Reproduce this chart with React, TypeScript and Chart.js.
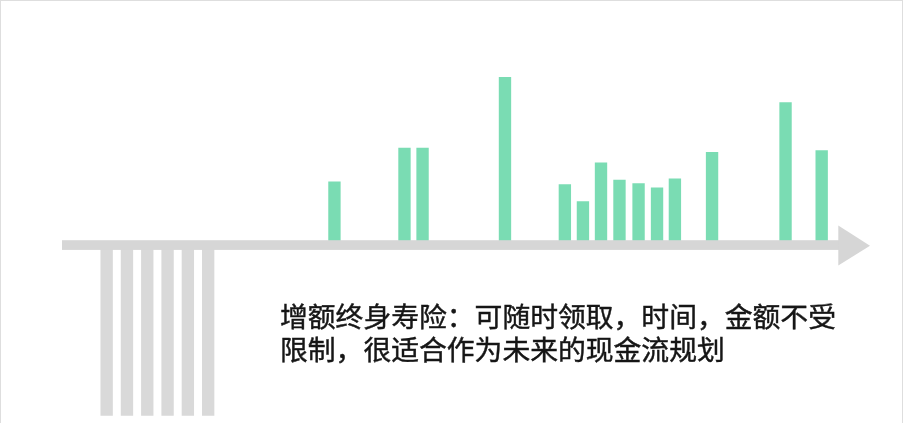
import React, { useEffect, useRef } from "react";
import { Chart, registerables } from "chart.js";

Chart.register(...registerables);

// Outflow (premium) years and inflow (withdrawal) years on a timeline
const premiumYears = [2, 3, 4, 5, 6, 7];
const premiumValues = [-101, -101, -101, -101, -101, -101];

const withdrawYears = [13.22, 16.67, 17.56, 21.62, 24.57, 25.46, 26.35, 27.26, 28.2, 29.11, 29.99, 31.82, 35.44, 37.22];
const withdrawValues = [37.4, 57.4, 57.4, 99.2, 35.8, 25.7, 48.6, 38.4, 36.3, 33.9, 39.2, 54.9, 84.3, 55.9];

const captionLines = [
  "增额终身寿险：可随时领取，时间，金额不受",
  "限制，很适合作为未来的现金流规划",
];

const axisArrowPlugin = {
  id: "axisArrow",
  afterDatasetsDraw(chart: any) {
    const { ctx, chartArea, scales } = chart;
    const y0 = scales.y.getPixelForValue(0);
    const tip = chartArea.right;
    const base = tip - 31.7;
    ctx.save();
    ctx.fillStyle = "#d6d6d6";
    ctx.fillRect(chartArea.left, y0 - 4.85, base - chartArea.left + 1, 9.7);
    ctx.beginPath();
    ctx.moveTo(base, y0 - 19.5);
    ctx.lineTo(tip, y0 + 0.6);
    ctx.lineTo(base, y0 + 20.5);
    ctx.closePath();
    ctx.fill();
    ctx.restore();
  },
};

export default function App() {
  const canvasRef = useRef<HTMLCanvasElement | null>(null);

  useEffect(() => {
    if (!canvasRef.current) return;
    const chart = new Chart(canvasRef.current, {
      type: "bar",
      data: {
        datasets: [
          {
            label: "premium",
            data: premiumYears.map((x, i) => ({ x, y: premiumValues[i] })),
            backgroundColor: "#d9d9d9",
            barThickness: 11.7,
            grouped: false,
          } as any,
          {
            label: "withdrawal",
            data: withdrawYears.map((x, i) => ({ x, y: withdrawValues[i] })),
            backgroundColor: "#7adcb3",
            barThickness: 11.7,
            grouped: false,
          } as any,
        ],
      },
      options: {
        animation: false,
        responsive: true,
        maintainAspectRatio: false,
        layout: { padding: { left: 62, right: 36, top: 76, bottom: 7.2 } },
        plugins: { legend: { display: false }, tooltip: { enabled: false } },
        scales: {
          x: { type: "linear", min: -0.2, max: 39.6, offset: false, display: false },
          y: { min: -101, max: 100, display: false },
        },
      },
      plugins: [axisArrowPlugin],
    });
    return () => chart.destroy();
  }, []);

  return (
    <div
      style={{
        position: "fixed",
        left: 0,
        top: 0,
        width: 906,
        height: 423,
        background: "#ffffff",
        overflow: "hidden",
      }}
    >
      <div
        style={{
          position: "absolute",
          left: 0,
          top: 0,
          width: 901,
          height: 440,
          borderTop: "1px solid #dedede",
          borderLeft: "1px solid #dedede",
          borderRight: "1px solid #dedede",
        }}
      />
      <div style={{ position: "absolute", left: 0, top: 0, width: 906, height: 423 }}>
        <canvas ref={canvasRef} />
      </div>
      <div
        style={{
          position: "absolute",
          left: 280,
          top: 298.5,
          fontFamily: "'Noto Sans CJK SC', sans-serif",
          fontSize: 27.8,
          lineHeight: "33.4px",
          fontWeight: 400,
          color: "#161616",
          WebkitTextStroke: "0.45px #161616",
          whiteSpace: "nowrap",
        }}
      >
        {captionLines.map((l, i) => (
          <div key={i}>{l}</div>
        ))}
      </div>
    </div>
  );
}
